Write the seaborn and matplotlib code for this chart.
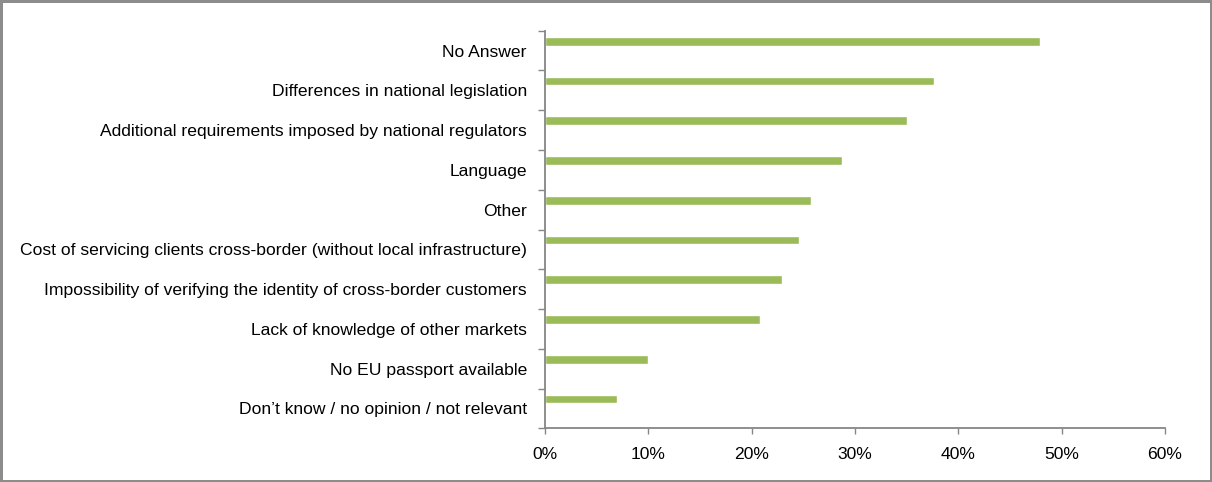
import matplotlib
matplotlib.use("Agg")
import matplotlib.pyplot as plt
from matplotlib.ticker import FixedLocator, FuncFormatter
import numpy as np
import pandas as pd
import seaborn as sns

# Obstacles to cross-border provision of services (share of respondents, %)
categories = [
    "No Answer",
    "Differences in national legislation",
    "Additional requirements imposed by national regulators",
    "Language",
    "Other",
    "Cost of servicing clients cross-border (without local infrastructure)",
    "Impossibility of verifying the identity of cross-border customers",
    "Lack of knowledge of other markets",
    "No EU passport available",
    "Don\u2019t know / no opinion / not relevant",
]
shares = [47.9, 37.6, 35.0, 28.7, 25.7, 24.6, 22.9, 20.8, 10.0, 7.0]
x_ticks = [0, 10, 20, 30, 40, 50, 60]

df = pd.DataFrame({"category": categories, "share": shares})

sns.set_theme(style="white")
plt.rcParams["font.family"] = ["Liberation Sans", "DejaVu Sans"]

GREEN = "#9BBB59"
AXIS_GREY = "#868686"
FONT_SIZE = 12.6

fig = plt.figure(figsize=(12.12, 4.82), dpi=100,
                 linewidth=2.5, edgecolor="#8c8c8c", facecolor="white")
ax = fig.add_axes([0.4497, 0.1114, 0.9612 - 0.4497, 0.9363 - 0.1114])

sns.barplot(data=df, x="share", y="category", orient="h",
            color=GREEN, saturation=1, width=0.22, ax=ax)

# bars sit in the upper part of each category band
offset = 0.236
n = len(categories)
ax.set_ylim(n - 0.5 + offset, -0.5 + offset)
ax.set_xlim(0, 60)

# band boundaries carry the tick marks, band centres carry the labels
ax.yaxis.set_major_locator(FixedLocator([i - 0.5 + offset for i in range(n + 1)]))
ax.yaxis.set_major_formatter(FuncFormatter(lambda v, p: ""))
ax.yaxis.set_minor_locator(FixedLocator([i + offset for i in range(n)]))
ax.yaxis.set_minor_formatter(FuncFormatter(lambda v, p: categories[int(round(v - offset))]))
ax.tick_params(axis="y", which="major", left=True, length=4.8, width=1.0,
               color=AXIS_GREY, direction="out")
ax.tick_params(axis="y", which="minor", left=True, length=0, pad=13,
               labelsize=FONT_SIZE, labelcolor="black")

ax.set_xticks(x_ticks)
ax.set_xticklabels([f"{t}%" for t in x_ticks])
ax.tick_params(axis="x", bottom=True, length=4, width=1.0, color=AXIS_GREY,
               direction="out", pad=9.5, labelsize=FONT_SIZE, labelcolor="black")

ax.set_xlabel("")
ax.set_ylabel("")
ax.grid(False)
for side in ("top", "right"):
    ax.spines[side].set_visible(False)
for side in ("left", "bottom"):
    ax.spines[side].set_color(AXIS_GREY)
    ax.spines[side].set_linewidth(1.3)

fig.savefig("out.png", dpi=100)
